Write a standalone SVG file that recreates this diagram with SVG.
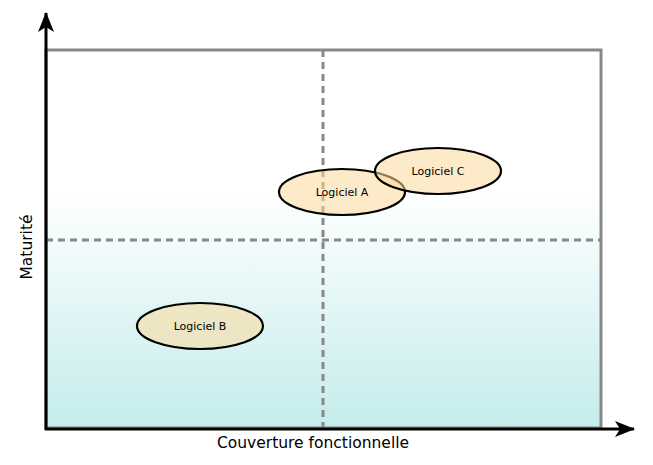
<svg xmlns="http://www.w3.org/2000/svg" width="653" height="465" viewBox="0 0 653 465">
<defs>
<linearGradient id="bg" x1="0" y1="0" x2="0" y2="1">
<stop offset="0.38" stop-color="#ffffff"/>
<stop offset="1" stop-color="#c4ecec"/>
</linearGradient>
<marker id="arrow" viewBox="0 0 20 16" refX="19" refY="8" markerWidth="20" markerHeight="16" markerUnits="userSpaceOnUse" orient="auto">
<path d="M0,0 L20,8 L0,16 L5,8 Z" fill="#000"/>
</marker>
</defs>
<style>
.dash{stroke:#888;stroke-width:3;stroke-dasharray:7,5;fill:none}
.node ellipse{stroke:#000;stroke-width:2.2;fill:#fbd99a;fill-opacity:0.55}
.lbl{font-family:"DejaVu Sans",sans-serif;font-size:11px;fill:#000;text-anchor:middle}
.axl{font-family:"DejaVu Sans",sans-serif;font-size:15.5px;fill:#000;text-anchor:middle}
</style>
<rect x="46" y="50" width="555" height="378" fill="url(#bg)" stroke="#888" stroke-width="3"/>
<line class="dash" x1="46" y1="240" x2="601" y2="240"/>
<line class="dash" x1="323" y1="50" x2="323" y2="428"/>
<g id="connectors">
<line x1="46" y1="430" x2="46" y2="13" stroke="#000" stroke-width="3" marker-end="url(#arrow)"/>
<line x1="45" y1="429" x2="634" y2="429" stroke="#000" stroke-width="3" marker-end="url(#arrow)"/>
</g>
<g id="logiciel-b" class="node">
<ellipse cx="200" cy="326" rx="63" ry="23"/>
<text class="lbl" x="200" y="330">Logiciel B</text>
</g>
<g id="logiciel-a" class="node">
<ellipse cx="342" cy="192" rx="63" ry="23"/>
<text class="lbl" x="342" y="196">Logiciel A</text>
</g>
<g id="logiciel-c" class="node">
<ellipse cx="438" cy="171" rx="63" ry="23"/>
<text class="lbl" x="438" y="175">Logiciel C</text>
</g>
<g id="axis-labels">
<text class="axl" x="313" y="448">Couverture fonctionnelle</text>
<text class="axl" transform="translate(32,247) rotate(-90)" x="0" y="0">Maturité</text>
</g>
</svg>
